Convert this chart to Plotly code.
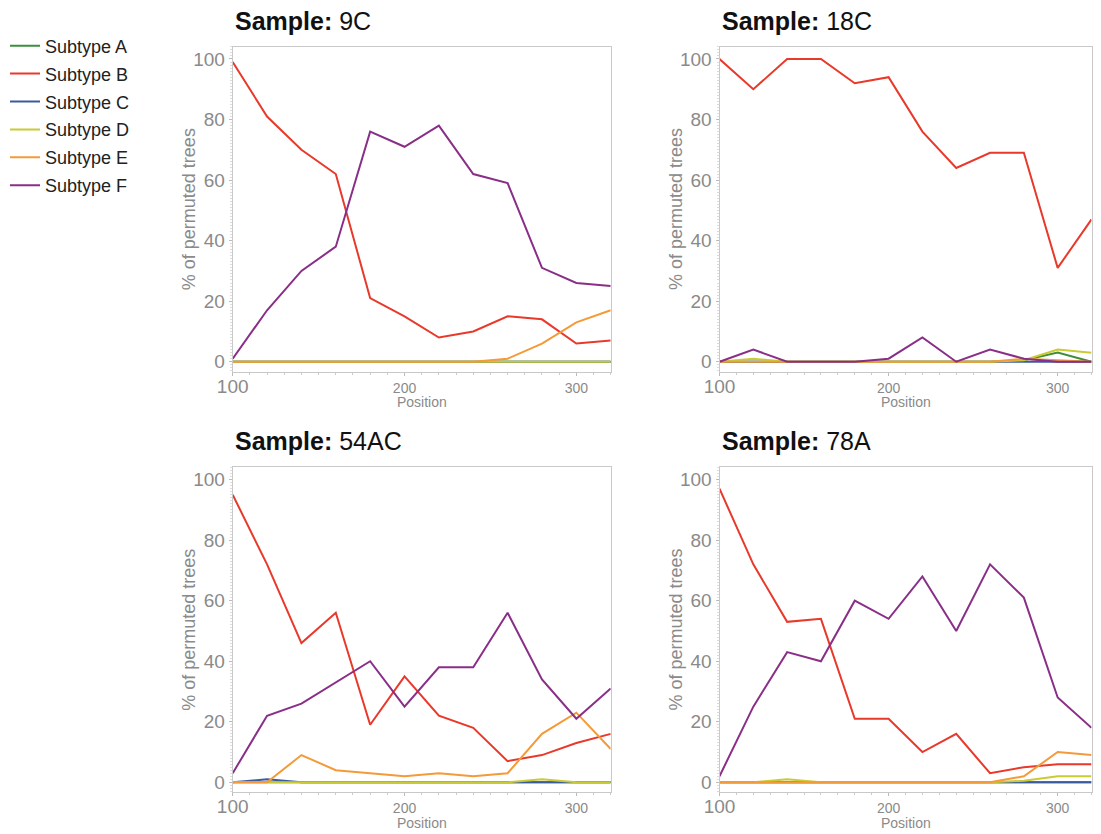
import plotly.graph_objects as go

positions = [100, 120, 140, 160, 180, 200, 220, 240, 260, 280, 300, 320]
subtypes = ["Subtype A", "Subtype B", "Subtype C", "Subtype D", "Subtype E", "Subtype F"]
colors = ["#3E8E3A", "#E8392B", "#3A5BA0", "#C9CB35", "#F49A38", "#892F88"]
samples = ["9C", "18C", "54AC", "78A"]

# Sample 9C
s9c_A = [0, 0, 0, 0, 0, 0, 0, 0, 0, 0, 0, 0]
s9c_B = [99, 81, 70, 62, 21, 15, 8, 10, 15, 14, 6, 7]
s9c_C = [0, 0, 0, 0, 0, 0, 0, 0, 0, 0, 0, 0]
s9c_D = [0, 0, 0, 0, 0, 0, 0, 0, 0, 0, 0, 0]
s9c_E = [0, 0, 0, 0, 0, 0, 0, 0, 1, 6, 13, 17]
s9c_F = [1, 17, 30, 38, 76, 71, 78, 62, 59, 31, 26, 25]

# Sample 18C
s18c_A = [0, 0, 0, 0, 0, 0, 0, 0, 0, 0.5, 3, 0]
s18c_B = [100, 90, 100, 100, 92, 94, 76, 64, 69, 69, 31, 47]
s18c_C = [0, 0, 0, 0, 0, 0, 0, 0, 0, 0, 0, 0]
s18c_D = [0, 1, 0, 0, 0, 0, 0, 0, 0, 0.5, 4, 3]
s18c_E = [0, 0, 0, 0, 0, 0, 0, 0, 0, 1, 0.5, 0]
s18c_F = [0, 4, 0, 0, 0, 1, 8, 0, 4, 1, 0, 0]

# Sample 54AC
s54ac_A = [0, 0, 0, 0, 0, 0, 0, 0, 0, 0, 0, 0]
s54ac_B = [95, 72, 46, 56, 19, 35, 22, 18, 7, 9, 13, 16]
s54ac_C = [0, 1, 0, 0, 0, 0, 0, 0, 0, 0, 0, 0]
s54ac_D = [0, 0, 0, 0, 0, 0, 0, 0, 0, 1, 0, 0]
s54ac_E = [0, 0, 9, 4, 3, 2, 3, 2, 3, 16, 23, 11]
s54ac_F = [3, 22, 26, 33, 40, 25, 38, 38, 56, 34, 21, 31]

# Sample 78A
s78a_A = [0, 0, 0, 0, 0, 0, 0, 0, 0, 0, 0, 0]
s78a_B = [97, 72, 53, 54, 21, 21, 10, 16, 3, 5, 6, 6]
s78a_C = [0, 0, 0, 0, 0, 0, 0, 0, 0, 0, 0, 0]
s78a_D = [0, 0, 1, 0, 0, 0, 0, 0, 0, 0.5, 2, 2]
s78a_E = [0, 0, 0, 0, 0, 0, 0, 0, 0, 2, 10, 9]
s78a_F = [2, 25, 43, 40, 60, 54, 68, 50, 72, 61, 28, 18]

panel_data = [
    [s9c_A, s9c_B, s9c_C, s9c_D, s9c_E, s9c_F],
    [s18c_A, s18c_B, s18c_C, s18c_D, s18c_E, s18c_F],
    [s54ac_A, s54ac_B, s54ac_C, s54ac_D, s54ac_E, s54ac_F],
    [s78a_A, s78a_B, s78a_C, s78a_D, s78a_E, s78a_F],
]

# page has an 8px body margin; keep the figure inside the visible window
OFF = 8
W, H = 1101 - 2 * OFF, 834 - OFF
x_px = [[232.7 - OFF, 610.7 - OFF], [719.5 - OFF, 1091.5 - OFF]]
y_px = [[46.7 - OFF, 371.7 - OFF], [467.3 - OFF, 792.3 - OFF]]
x_domains = [[a / W, b / W] for a, b in x_px]
y_domains = [[1 - b / H, 1 - a / H] for a, b in y_px]

FONT = "Arial, Liberation Sans, sans-serif"
GRAY = "#8a8a8a"

fig = go.Figure()
layout = dict(
    width=W, height=H,
    margin=dict(l=0, r=0, t=0, b=0, autoexpand=False),
    paper_bgcolor="white", plot_bgcolor="white",
    font=dict(family=FONT, color=GRAY),
    showlegend=True,
    legend=dict(x=-3 / W, y=1 - 19.5 / H, xanchor="left", yanchor="top",
                font=dict(size=18, color="#222222", family=FONT),
                tracegroupgap=1.5, bgcolor="rgba(0,0,0,0)"),
    annotations=[],
)

for p in range(4):
    r, c = divmod(p, 2)
    idx = "" if p == 0 else str(p + 1)
    xa, ya = "x" + idx, "y" + idx
    for k in range(6):
        fig.add_trace(go.Scatter(
            x=positions, y=panel_data[p][k], mode="lines",
            line=dict(color=colors[k], width=2),
            name=subtypes[k], legendgroup=subtypes[k],
            showlegend=(p == 0), xaxis=xa, yaxis=ya,
        ))
    layout["xaxis" + idx] = dict(
        domain=x_domains[c], anchor=ya, range=[100, 320], automargin=False,
        showgrid=False, zeroline=False,
        showline=True, mirror=True, linecolor="#c9c9c9", linewidth=1,
        tickmode="array", tickvals=[100, 200, 300],
        ticktext=['<span style="font-size:19px">100</span>', "200", "300"],
        ticks="outside", ticklen=3, tickcolor="#bbbbbb",
        minor=dict(ticks="outside", ticklen=2, dtick=10, tickcolor="#cccccc", showgrid=False),
        tickfont=dict(size=14, color=GRAY),
    )
    layout["yaxis" + idx] = dict(
        domain=y_domains[r], anchor=xa, range=[-3.3, 104.06], automargin=False,
        showgrid=False, zeroline=False,
        showline=True, mirror=True, linecolor="#c9c9c9", linewidth=1,
        tickmode="array", tickvals=[0, 20, 40, 60, 80, 100],
        ticks="outside", ticklen=3, tickcolor="#bbbbbb",
        minor=dict(ticks="outside", ticklen=2, dtick=1, tickcolor="#dddddd", showgrid=False),
        tickfont=dict(size=19, color=GRAY),
    )
    # x-axis title
    layout["annotations"].append(dict(
        text="Position", xref="paper", yref="paper",
        x=(x_domains[c][0] + x_domains[c][1]) / 2, y=y_domains[r][0] - 30.5 / H,
        xanchor="center", yanchor="middle", showarrow=False,
        font=dict(size=14, color=GRAY, family=FONT),
    ))
    # y-axis title
    layout["annotations"].append(dict(
        text="% of permuted trees", xref="paper", yref="paper",
        x=(x_px[c][0] - 43.7) / W, y=(y_domains[r][0] + y_domains[r][1]) / 2,
        xanchor="center", yanchor="middle", textangle=-90, showarrow=False,
        font=dict(size=18, color=GRAY, family=FONT),
    ))
    # panel title
    layout["annotations"].append(dict(
        text="<b>Sample:</b> " + samples[p], xref="paper", yref="paper",
        x=x_domains[c][0], y=y_domains[r][1] + 26 / H,
        xanchor="left", yanchor="middle", showarrow=False,
        font=dict(size=25, color="#111111", family=FONT),
    ))

fig.update_layout(**layout)
fig.write_html("out.html")
